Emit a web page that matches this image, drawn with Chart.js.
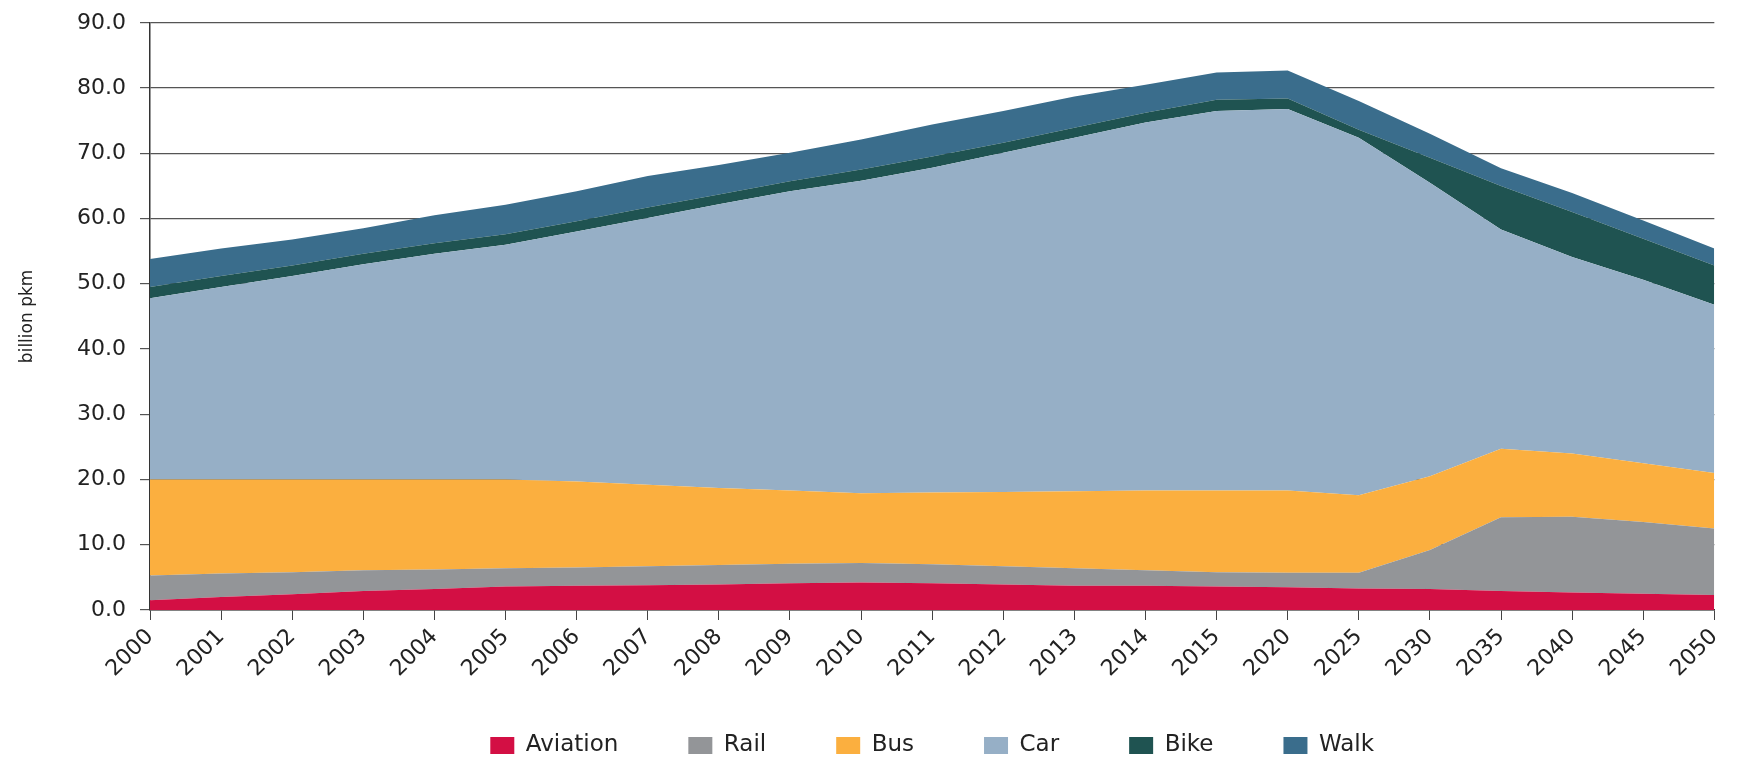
<!DOCTYPE html>
<html>
<head>
<meta charset="utf-8">
<script src="https://cdn.jsdelivr.net/npm/chart.js@4.4.1/dist/chart.umd.min.js"></script>
<style>
  html, body { margin: 0; padding: 0; background: #fff; }
  #wrap { width: 1737px; height: 758px; position: relative; }
</style>
</head>
<body>
<div id="wrap"><canvas id="chart"></canvas></div>
<script>
// Passenger transport by mode, billion pkm
const years = ['2000', '2001', '2002', '2003', '2004', '2005', '2006', '2007', '2008', '2009',
  '2010', '2011', '2012', '2013', '2014', '2015', '2020', '2025', '2030', '2035', '2040', '2045', '2050'];

const aviation = [1.5, 2.0, 2.4, 2.9, 3.2, 3.6, 3.7, 3.8, 3.9, 4.1, 4.2, 4.1, 3.9, 3.7, 3.7, 3.6, 3.5, 3.3, 3.2, 2.9, 2.7, 2.5, 2.3];
const rail     = [3.8, 3.6, 3.4, 3.2, 3.0, 2.8, 2.8, 2.9, 3.0, 3.0, 3.0, 2.9, 2.8, 2.7, 2.4, 2.2, 2.2, 2.4, 6.0, 11.3, 11.6, 11.0, 10.2];
const bus      = [14.7, 14.4, 14.2, 13.9, 13.8, 13.6, 13.2, 12.5, 11.8, 11.2, 10.7, 11.0, 11.4, 11.8, 12.2, 12.5, 12.6, 11.9, 11.3, 10.5, 9.7, 9.0, 8.5];
const car      = [27.8, 29.5, 31.2, 33.0, 34.6, 36.0, 38.3, 40.9, 43.5, 45.9, 47.9, 49.8, 52.0, 54.2, 56.4, 58.2, 58.5, 54.8, 45.0, 33.6, 30.1, 28.1, 25.8];
const bike     = [1.7, 1.7, 1.6, 1.6, 1.6, 1.6, 1.6, 1.6, 1.5, 1.5, 1.7, 1.7, 1.5, 1.5, 1.5, 1.7, 1.6, 1.2, 3.8, 6.7, 6.9, 6.3, 6.0];
const walk     = [4.3, 4.2, 4.0, 3.9, 4.3, 4.5, 4.6, 4.8, 4.5, 4.4, 4.6, 4.9, 4.9, 4.8, 4.3, 4.2, 4.3, 4.4, 3.7, 2.7, 2.9, 2.8, 2.6];

const modes = ['Aviation', 'Rail', 'Bus', 'Car', 'Bike', 'Walk'];
const colors = ['#d30f44', '#939598', '#fbaf3f', '#96afc6', '#1f5351', '#3a6d8c'];
const series = [aviation, rail, bus, car, bike, walk];

const yTicks = [0, 10, 20, 30, 40, 50, 60, 70, 80, 90];

const FONT = 'DejaVu Sans';
const TXT = '#222';

const LEGEND_H = 73;    // space the legend takes in the layout
const LEGEND_UP = 21;   // legend items sit a bit higher than their box

const datasets = series.map((d, i) => ({
  label: modes[i],
  data: d,
  backgroundColor: colors[i],
  borderColor: colors[i],
  borderWidth: 0,
  pointRadius: 0,
  tension: 0,
  fill: i === 0 ? 'origin' : '-1'
}));

// wide gaps between legend items without a tall legend box
const legendFit = {
  id: 'legendFit',
  afterInit(chart) {
    const lg = chart.legend;
    const fit = lg.fit;
    lg.fit = function () { fit.call(this); this.height = LEGEND_H; };
  },
  afterLayout(chart) {
    const lg = chart.legend;
    lg.top -= LEGEND_UP;
    lg.bottom = chart.height;
    lg.height = lg.bottom - lg.top;
  }
};

new Chart(document.getElementById('chart'), {
  type: 'line',
  data: { labels: years, datasets },
  options: {
    responsive: true, maintainAspectRatio: false,
    animation: false,
    layout: { padding: { left: 0, right: 22, top: 18, bottom: 0 } },
    plugins: {
      legend: {
        position: 'bottom',
        fullSize: false,
        labels: {
          boxWidth: 24, boxHeight: 17, padding: 70,
          color: TXT,
          font: { family: FONT, size: 23 }
        }
      },
      tooltip: { enabled: false }
    },
    scales: {
      x: {
        offset: false,
        grid: { drawOnChartArea: false, drawTicks: true, tickLength: 10, color: '#444' },
        border: { color: '#333', width: 1.5 },
        ticks: {
          color: TXT, font: { family: FONT, size: 22 },
          minRotation: 45, maxRotation: 45, autoSkip: false, padding: 4
        },
        afterFit: s => { s.height = 75; }
      },
      y: {
        stacked: true,
        min: 0, max: 90,
        afterBuildTicks: s => { s.ticks = yTicks.map(v => ({ value: v })); },
        grid: { color: '#555', lineWidth: 1.2, tickLength: 10 },
        border: { color: '#333', width: 1.5 },
        ticks: {
          color: TXT, font: { family: FONT, size: 22, lineHeight: 0.8 }, padding: 14,
          callback: v => v.toFixed(1)
        },
        title: {
          display: true, text: 'billion pkm', color: TXT,
          font: { family: FONT, size: 17 },
          padding: { top: 17, bottom: 0 }
        },
        afterFit: s => { s.width = 150; }
      }
    }
  },
  plugins: [legendFit]
});
</script>
</body>
</html>
